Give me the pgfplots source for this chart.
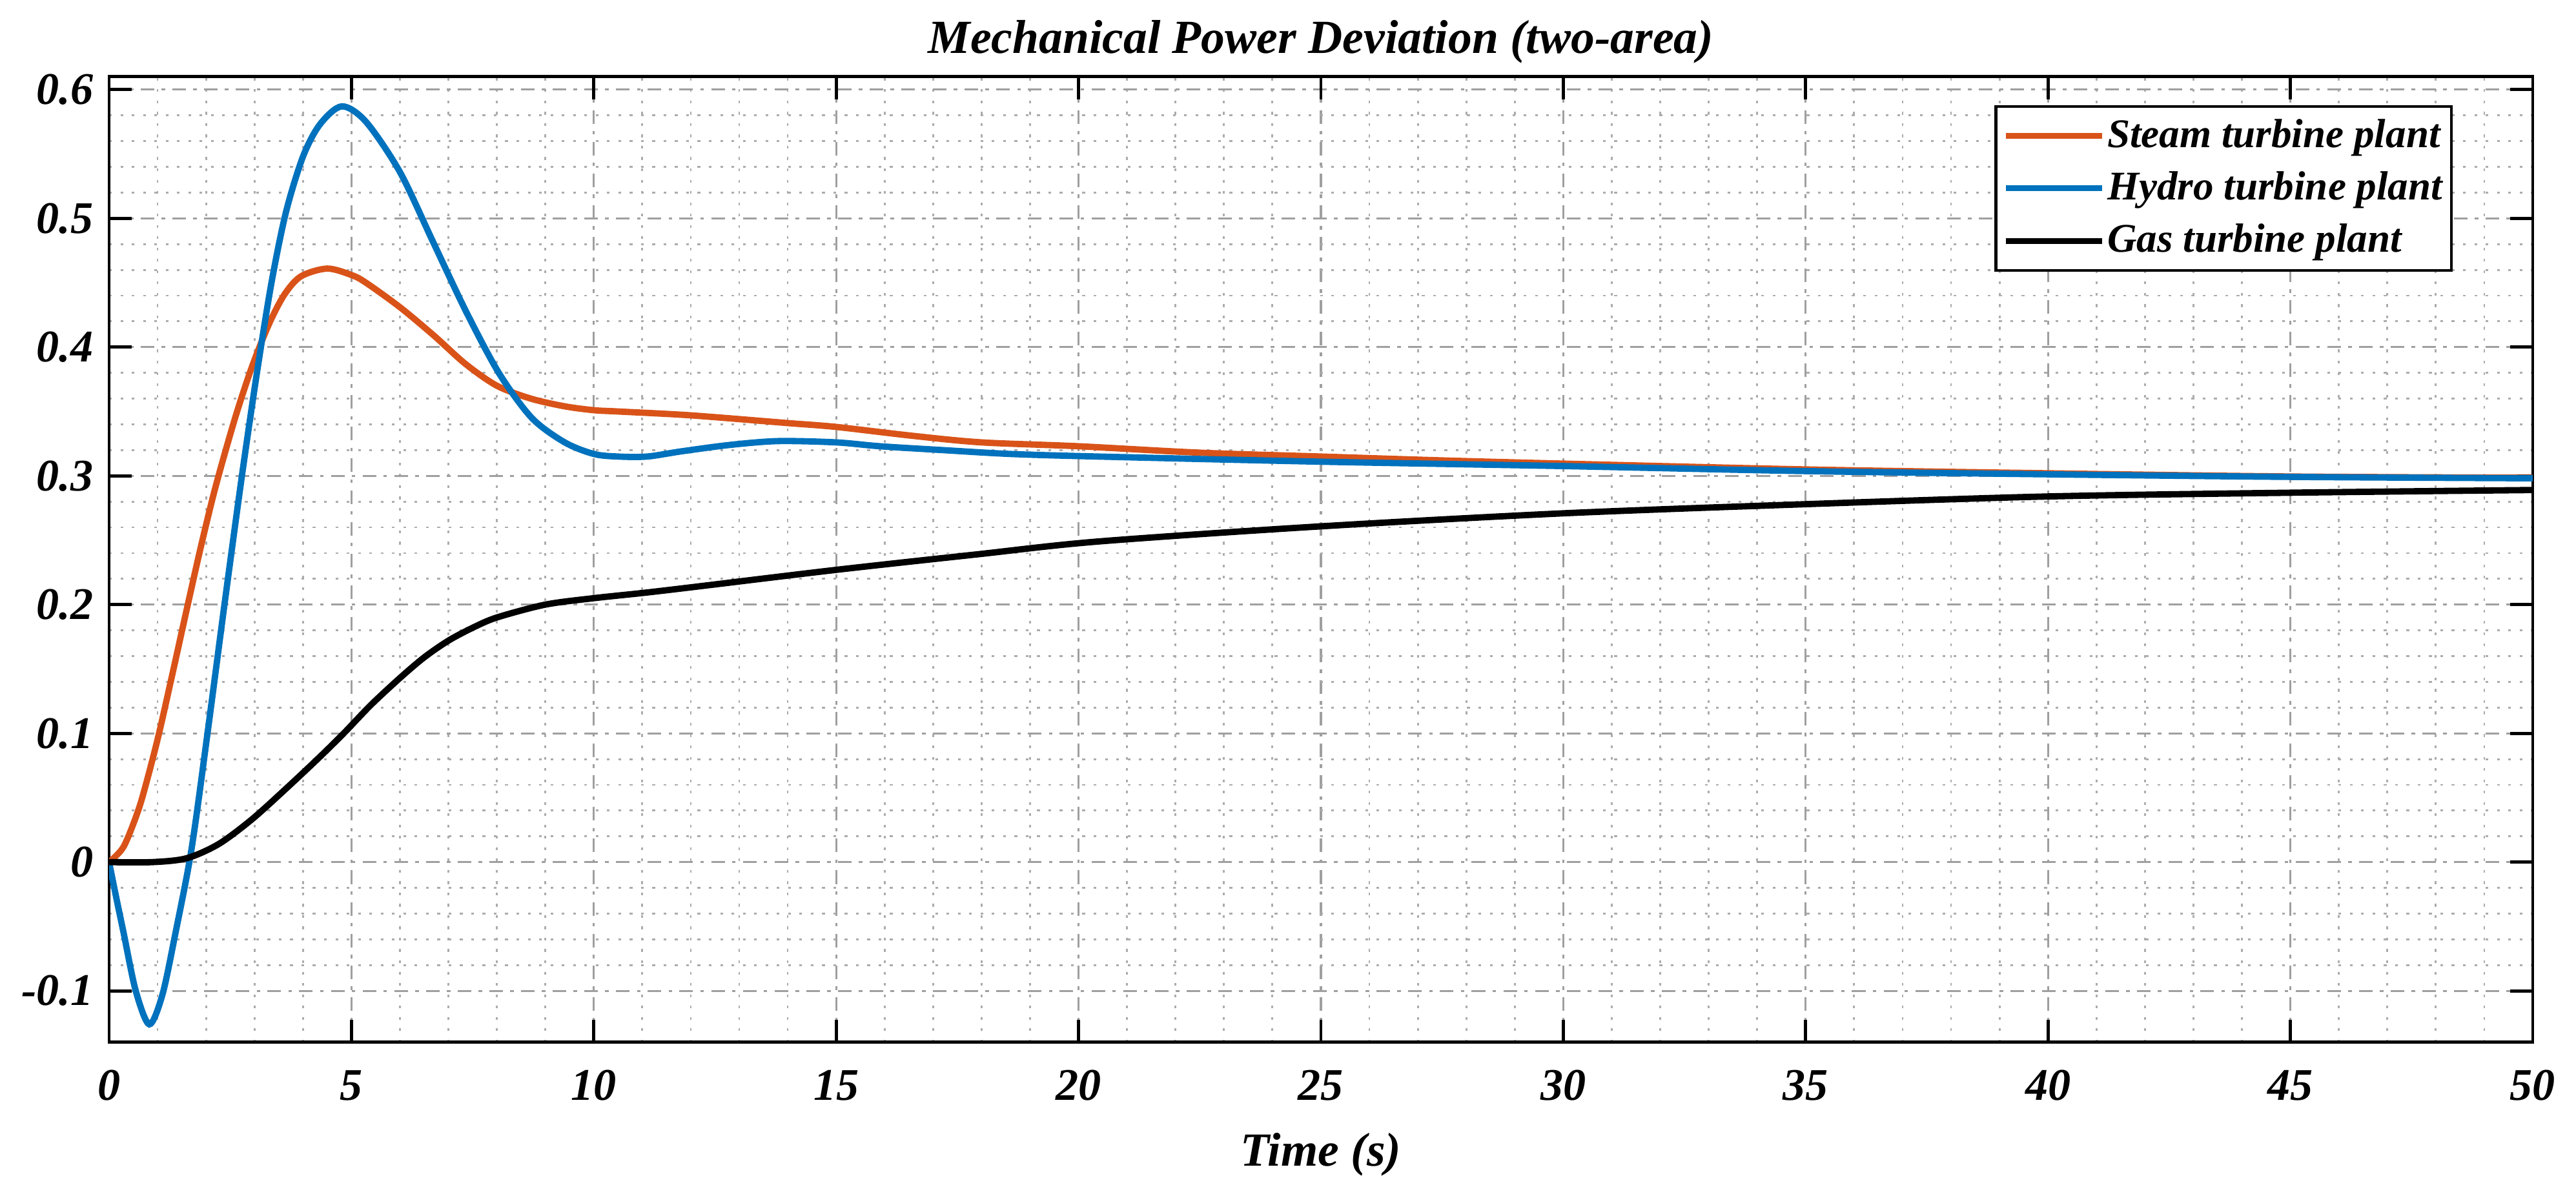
\documentclass[border=0pt]{standalone}
\usepackage{pgfplots}
\pgfplotsset{compat=1.18}
\usepackage{pgfplotstable}
\usepackage{fontspec}
\setmainfont{Liberation Serif}
\definecolor{steam}{RGB}{217,83,25}
\definecolor{hydro}{RGB}{0,114,189}

\pgfplotstableread{
x y
0 0
0.3 0.012
0.6 0.040
0.8 0.066
1.03 0.100
1.3 0.145
1.6 0.196
1.9 0.246
2.2 0.292
2.6 0.345
2.95 0.385
3.3 0.418
3.62 0.441
3.96 0.455
4.5 0.461
5.0 0.456
5.3 0.450
6.0 0.431
6.7 0.409
7.35 0.387
8.0 0.370
8.7 0.360
9.4 0.354
10.0 0.351
10.5 0.350
12 0.347
14 0.341
15 0.338
16.6 0.331
18 0.326
20 0.323
22.5 0.318
25 0.315
27.5 0.312
30 0.3095
35 0.305
40 0.302
45 0.2995
50 0.2985
}\steamdata

\pgfplotstableread{
x y
0 0
0.15 -0.028
0.3 -0.055
0.55 -0.100
0.83 -0.126
1.1 -0.103
1.37 -0.055
1.7 0.010
2.03 0.100
2.38 0.200
2.74 0.300
3.05 0.380
3.35 0.450
3.65 0.505
4.0 0.548
4.35 0.573
4.8 0.587
5.3 0.575
6.0 0.536
6.68 0.482
7.36 0.428
8.04 0.380
8.72 0.345
9.4 0.326
10.0 0.317
10.5 0.315
11.1 0.315
11.8 0.319
12.8 0.324
13.8 0.327
15 0.326
15.9 0.323
17.2 0.320
18.6 0.317
20.4 0.315
25 0.311
30 0.3076
35 0.3037
40 0.3012
45 0.2992
50 0.2981
}\hydrodata

\pgfplotstableread{
x y
0 0
0.9 0.0
1.6 0.003
2.26 0.014
2.94 0.033
3.62 0.056
4.3 0.080
4.84 0.100
5.4 0.122
6 0.143
6.5 0.159
7 0.172
7.5 0.182
8 0.190
9 0.200
10 0.205
11 0.209
12 0.2134
15 0.227
17.9 0.239
20.4 0.249
25 0.2608
30 0.2709
35 0.278
40 0.284
45 0.2869
50 0.289
}\gasdata

\begin{document}
\begin{tikzpicture}
\path[use as bounding box] (-0.847cm,-1.193cm) rectangle (19.153cm,8.095cm);
\begin{axis}[
  scale only axis,
  width=18.817cm, height=7.499cm,
  at={(0,0)}, anchor=south west,
  xmin=0, xmax=50, ymin=-0.14, ymax=0.61,
  xtick={0,5,...,50},
  xticklabels={0,5,10,15,20,25,30,35,40,45,50},
  ytick={-0.1,0,0.1,0.2,0.3,0.4,0.5,0.6},
  yticklabels={-0.1,0,0.1,0.2,0.3,0.4,0.5,0.6},
  minor x tick num=4, minor y tick num=4,
  grid=both,
  major grid style={gray!75, line width=0.45pt, dash pattern=on 3pt off 1.6pt on 0.8pt off 1.6pt},
  minor grid style={gray!65, line width=0.4pt, dash pattern=on 0.6pt off 1.9pt},
  tick align=inside, tick pos=both,
  major tick length=0.175cm, minor tick length=0pt,
  every tick/.style={black, line width=0.7pt},
  axis line style={black, line width=0.7pt},
  tick label style={font=\fontsize{10}{12}\selectfont\bfseries\itshape},
  xticklabel style={anchor=base, yshift=-0.45cm},
  /pgf/number format/assume math mode=true,
  title={Mechanical Power Deviation (two-area)},
  every axis title/.style={font=\fontsize{10.5}{12}\selectfont\bfseries\itshape, at={(axis description cs:0.5,1)}, anchor=base, yshift=0.18cm},
  xlabel={Time (s)},
  every axis x label/.style={font=\fontsize{10.5}{12}\selectfont\bfseries\itshape, at={(axis description cs:0.5,0)}, anchor=base, yshift=-0.96cm},
  legend style={at={(1,1)}, anchor=north east, xshift=-0.62cm, yshift=-0.22cm,
    draw=black, line width=0.6pt, fill=white,
    font=\fontsize{9}{10}\selectfont\bfseries\itshape,
    inner xsep=1.5pt, inner ysep=1.5pt, row sep=1.6pt,
    nodes={inner sep=0.5pt, text height=7pt, text depth=2pt},
    legend cell align=left},
  legend image code/.code={\draw[#1, line width=1.3pt] (0cm,0cm) -- (0.75cm,0cm);},
]
\addplot[steam, line width=1.4pt, smooth] table[x=x,y=y] {\steamdata};
\addlegendentry{Steam turbine plant}
\addplot[hydro, line width=1.4pt, smooth] table[x=x,y=y] {\hydrodata};
\addlegendentry{Hydro turbine plant}
\addplot[black, line width=1.4pt, smooth] table[x=x,y=y] {\gasdata};
\addlegendentry{Gas turbine plant}
\end{axis}
\end{tikzpicture}
\end{document}
